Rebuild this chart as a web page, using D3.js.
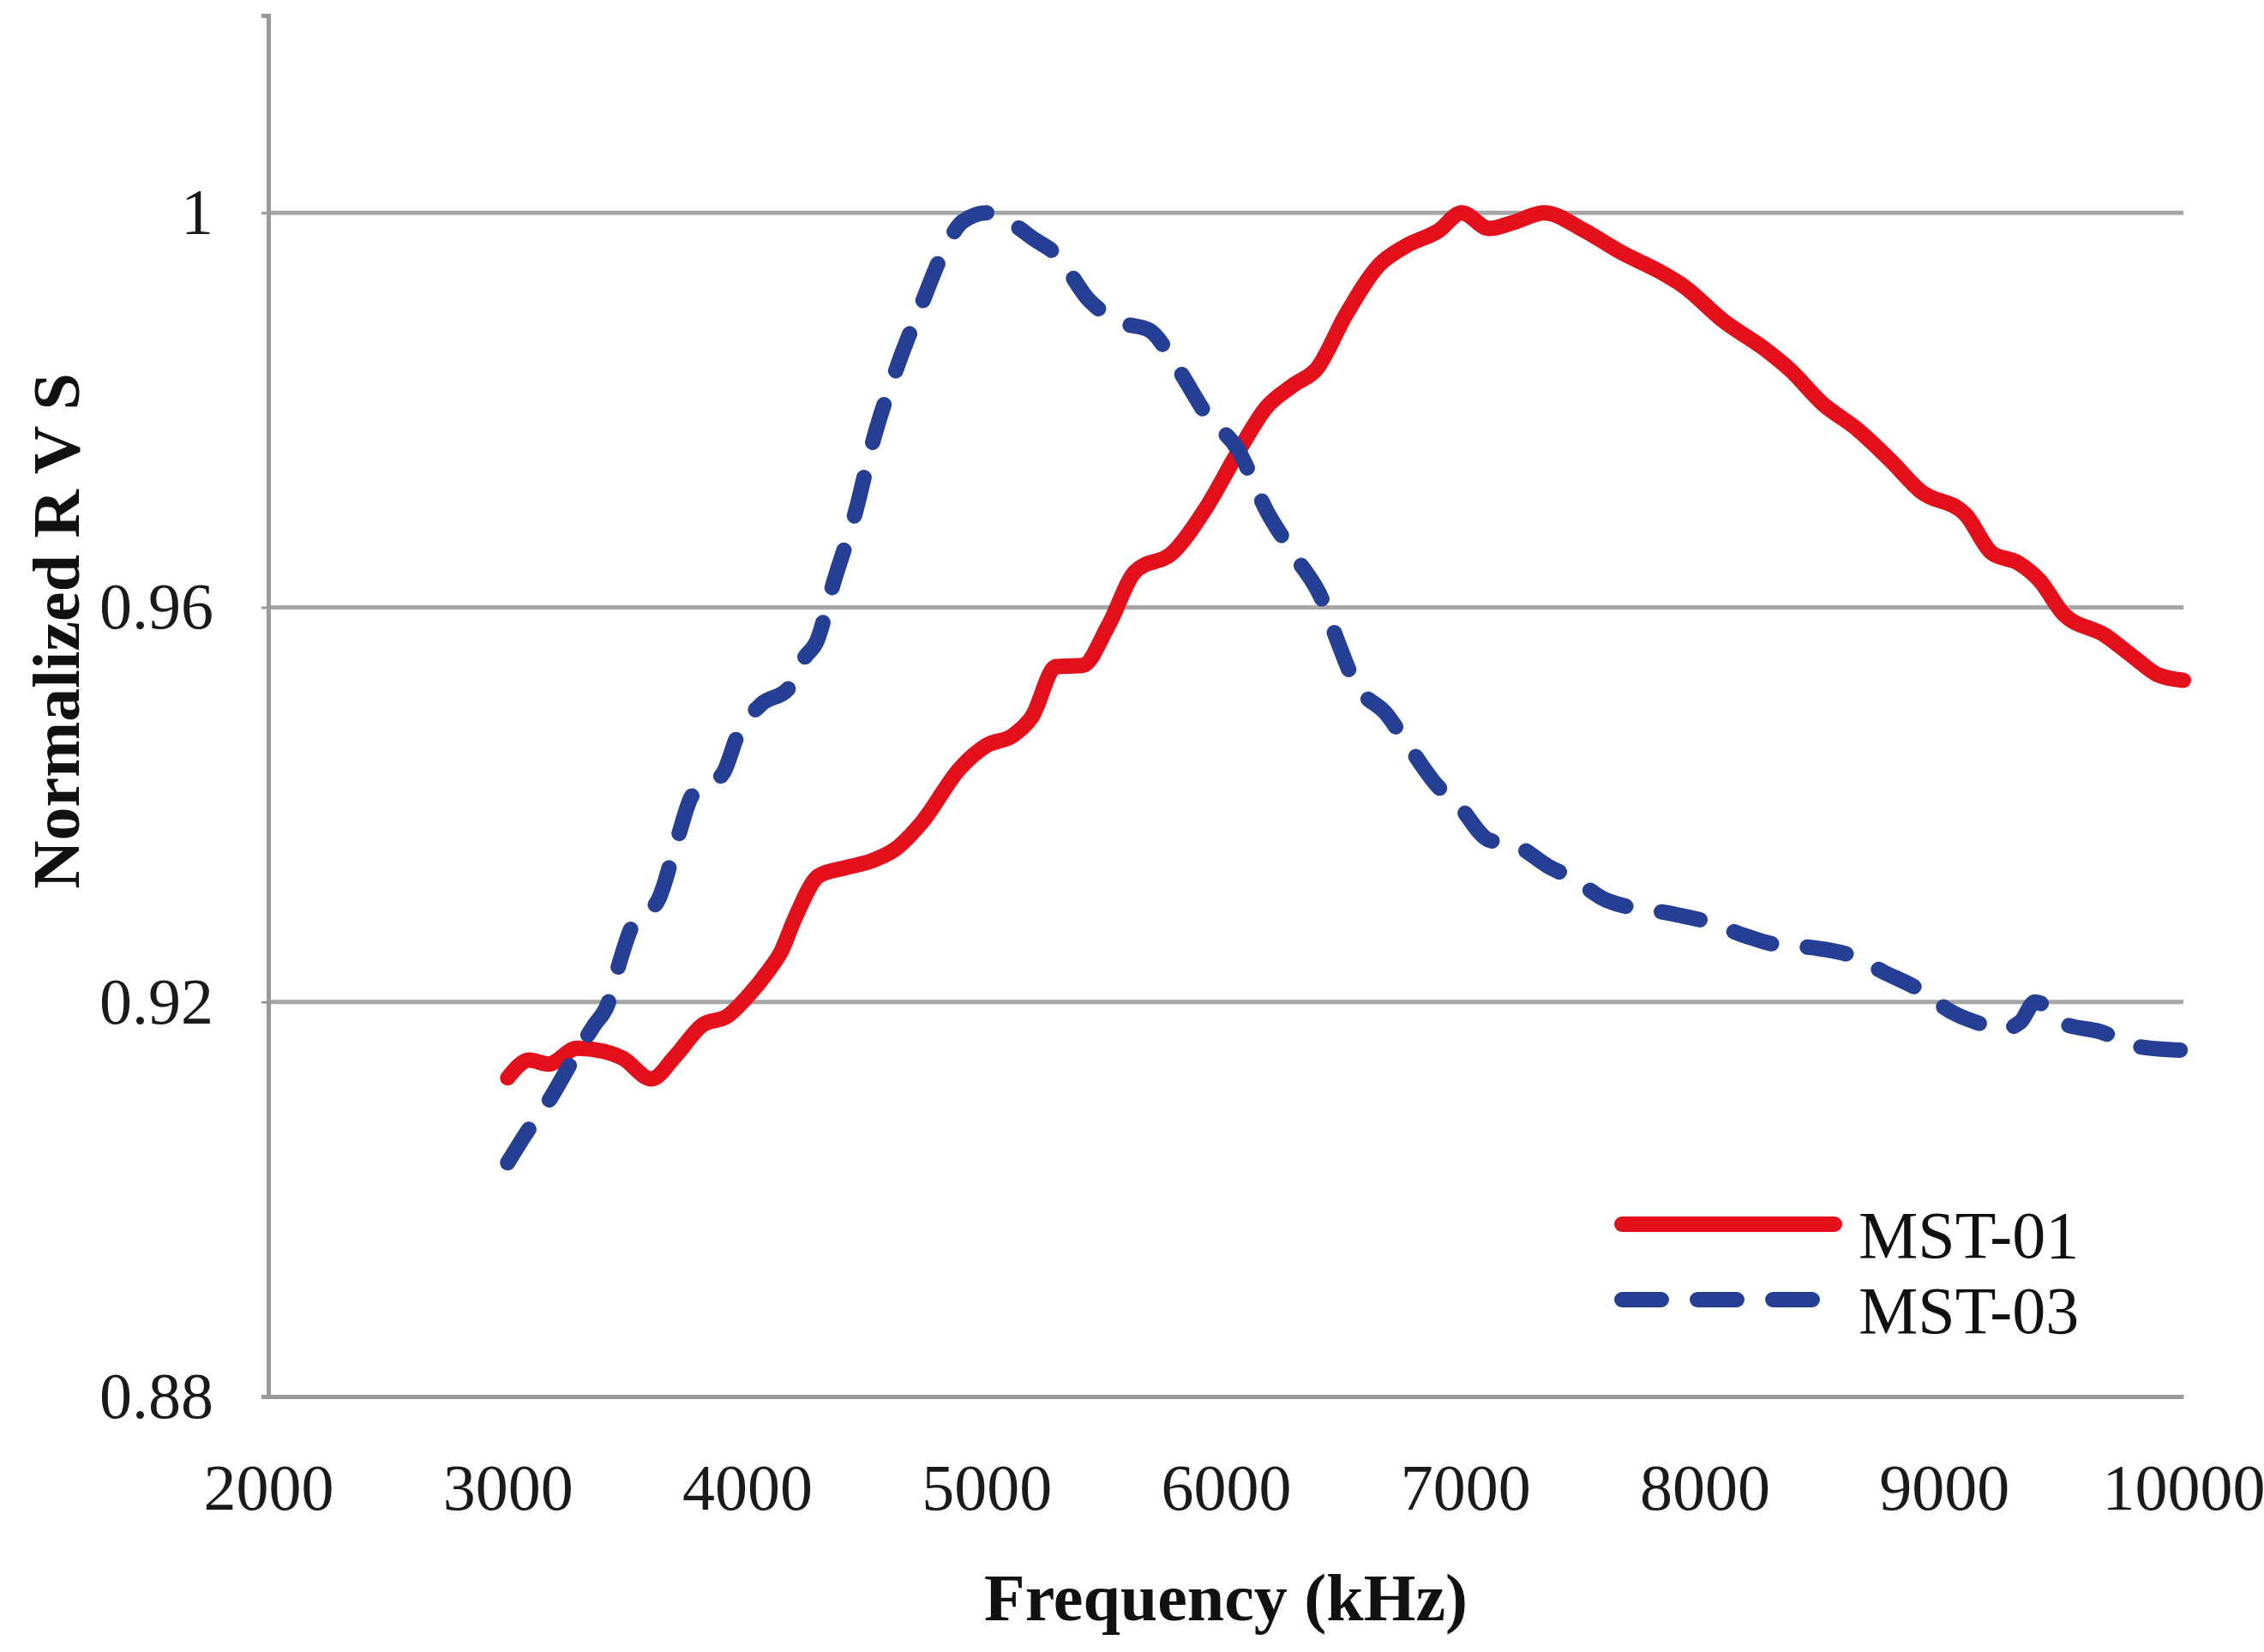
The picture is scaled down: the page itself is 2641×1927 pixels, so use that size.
<!DOCTYPE html>
<html>
<head>
<meta charset="utf-8">
<script src="https://cdn.jsdelivr.net/npm/d3@7"></script>
<style>
  html, body { margin: 0; padding: 0; background: #fff; }
  svg { display: block; }
</style>
</head>
<body>
<div id="chart"></div>
<script>
// MST-01 (red, solid)
const freq01 = [3000, 3090, 3170, 3290, 3400, 3480, 3600, 3700, 3810, 3920, 4000, 4090, 4140, 4200, 4300, 4410, 4520, 4620, 4730, 4890, 5000, 5110, 5190, 5290, 5400, 5510, 5620, 5780, 5920, 6050, 6170, 6280, 6380, 6500, 6640, 6750, 6890, 6985, 7100, 7200, 7330, 7490, 7650, 7830, 7910, 8080, 8250, 8360, 8490, 8640, 8780, 8900, 9090, 9200, 9310, 9400, 9500, 9670, 9800, 9890, 10000];
const rvs01 = [0.9123, 0.9141, 0.9137, 0.9153, 0.9150, 0.9143, 0.9122, 0.9145, 0.9176, 0.9186, 0.9205, 0.9232, 0.9250, 0.9285, 0.9328, 0.9336, 0.9343, 0.9355, 0.9382, 0.9437, 0.9460, 0.9470, 0.9489, 0.9540, 0.9541, 0.9582, 0.9636, 0.9656, 0.9702, 0.9757, 0.9803, 0.9825, 0.9842, 0.9896, 0.9947, 0.9966, 0.9982, 1.0, 0.9984, 0.9990, 1.0, 0.9983, 0.9960, 0.9938, 0.9926, 0.9890, 0.9862, 0.9840, 0.9807, 0.9780, 0.9748, 0.9718, 0.9694, 0.9655, 0.9645, 0.9627, 0.9593, 0.9572, 0.9548, 0.9532, 0.9526];

// MST-03 (blue, dashed)
const freq03 = [3000, 3080, 3180, 3280, 3360, 3420, 3460, 3520, 3630, 3710, 3770, 3900, 3960, 4060, 4170, 4240, 4290, 4360, 4450, 4530, 4630, 4730, 4815, 4900, 5000, 5100, 5200, 5290, 5430, 5560, 5680, 5800, 5920, 6050, 6170, 6300, 6400, 6460, 6540, 6670, 6770, 6880, 6970, 7100, 7200, 7350, 7450, 7590, 7870, 8000, 8170, 8300, 8450, 8600, 8750, 8900, 9030, 9150, 9240, 9320, 9380, 9430, 9500, 9650, 9830, 10000];
const rvs03 = [0.9037, 0.9068, 0.9103, 0.9145, 0.9176, 0.9199, 0.9234, 0.9277, 0.9304, 0.9366, 0.9409, 0.9432, 0.9470, 0.9502, 0.9517, 0.9549, 0.9565, 0.9624, 0.9694, 0.9772, 0.9846, 0.9908, 0.9958, 0.9991, 1.0, 0.9990, 0.9973, 0.9958, 0.9911, 0.9889, 0.9881, 0.9842, 0.9795, 0.9760, 0.9698, 0.9648, 0.9609, 0.9570, 0.9523, 0.9492, 0.9457, 0.9420, 0.9400, 0.9364, 0.9360, 0.9337, 0.9325, 0.9303, 0.9289, 0.9282, 0.9267, 0.9258, 0.9255, 0.9248, 0.9230, 0.9212, 0.9190, 0.9178, 0.9172, 0.9180, 0.9200, 0.9195, 0.9178, 0.9170, 0.9154, 0.9151];

const seriesNames = ["MST-01", "MST-03"];
const xTicks = [2000, 3000, 4000, 5000, 6000, 7000, 8000, 9000, 10000];
const yTicks = [0.88, 0.92, 0.96, 1];

const width = 2641;
const height = 1927;
const margin = { top: 18, right: 94, bottom: 298, left: 313 };

const svg = d3.select("#chart")
    .append("svg")
    .attr("width", width)
    .attr("height", height);

const xScale = d3.scaleLinear()
    .domain([2000, 10000])
    .range([margin.left, width - margin.right]);

const yScale = d3.scaleLinear()
    .domain([0.88, 1.02])
    .range([height - margin.bottom, margin.top]);

const tickFont = "'Liberation Serif', 'Times New Roman', serif";

// horizontal gridlines
svg.selectAll(".y-gridline")
    .data(yTicks.filter(d => d > 0.88))
    .enter().append("line")
    .attr("class", "y-gridline")
    .attr("x1", margin.left)
    .attr("x2", width - margin.right)
    .attr("y1", d => yScale(d))
    .attr("y2", d => yScale(d))
    .attr("stroke", "#a6a6a6")
    .attr("stroke-width", 5);

// axes
const xAxis = d3.axisBottom(xScale)
    .tickValues(xTicks)
    .tickSize(0)
    .tickPadding(78)
    .tickFormat(d3.format("d"));

const yAxis = d3.axisLeft(yScale)
    .tickValues(yTicks)
    .tickSize(8)
    .tickPadding(56)
    .tickFormat(d => d === 1 ? "1" : d3.format(".2f")(d));

const xAxisGroup = svg.append("g")
    .attr("transform", `translate(0,${height - margin.bottom})`)
    .call(xAxis);

const yAxisGroup = svg.append("g")
    .attr("transform", `translate(${margin.left},0)`)
    .call(yAxis);

[xAxisGroup, yAxisGroup].forEach(g => {
    g.select(".domain").attr("stroke", "#9a9a9a").attr("stroke-width", 5);
    g.selectAll(".tick line").attr("stroke", "#9a9a9a").attr("stroke-width", 3);
    g.selectAll(".tick text")
        .attr("fill", "#1a1a1a")
        .style("font-family", tickFont)
        .style("font-size", "76px");
});

// lines
const line = d3.line()
    .x(d => xScale(d[0]))
    .y(d => yScale(d[1]))
    .curve(d3.curveMonotoneX);

const data01 = freq01.map((f, i) => [f, rvs01[i]]);
const data03 = freq03.map((f, i) => [f, rvs03[i]]);

svg.append("path")
    .datum(data01)
    .attr("fill", "none")
    .attr("stroke", "#e3101b")
    .attr("stroke-width", 18)
    .attr("stroke-linejoin", "round")
    .attr("stroke-linecap", "round")
    .attr("d", line);

svg.append("path")
    .datum(data03)
    .attr("fill", "none")
    .attr("stroke", "#243f93")
    .attr("stroke-width", 18)
    .attr("stroke-linecap", "round")
    .attr("stroke-dasharray", "46,42")
    .attr("d", line);

// axis titles
svg.append("text")
    .attr("x", (margin.left + width - margin.right) / 2)
    .attr("y", 1890)
    .attr("text-anchor", "middle")
    .style("font-family", tickFont)
    .style("font-weight", "bold")
    .style("font-size", "78px")
    .attr("fill", "#111")
    .text("Frequency (kHz)");

svg.append("text")
    .attr("transform", "translate(92,736) rotate(-90)")
    .attr("text-anchor", "middle")
    .style("font-family", tickFont)
    .style("font-weight", "bold")
    .style("font-size", "78px")
    .attr("fill", "#111")
    .text("Normalized R V S");

// legend
const legend = svg.append("g");
const legendY = [1428, 1516];

seriesNames.forEach((name, i) => {
    legend.append("line")
        .attr("x1", 1892)
        .attr("x2", i === 0 ? 2140 : 2130)
        .attr("y1", legendY[i])
        .attr("y2", legendY[i])
        .attr("stroke", i === 0 ? "#e3101b" : "#243f93")
        .attr("stroke-width", 18)
        .attr("stroke-linecap", "round")
        .attr("stroke-dasharray", i === 0 ? null : "46,42");

    legend.append("text")
        .attr("x", 2168)
        .attr("y", legendY[i] + 12)
        .attr("dy", "0.35em")
        .style("font-family", tickFont)
        .style("font-size", "78px")
        .attr("fill", "#111")
        .text(name);
});
</script>
</body>
</html>
